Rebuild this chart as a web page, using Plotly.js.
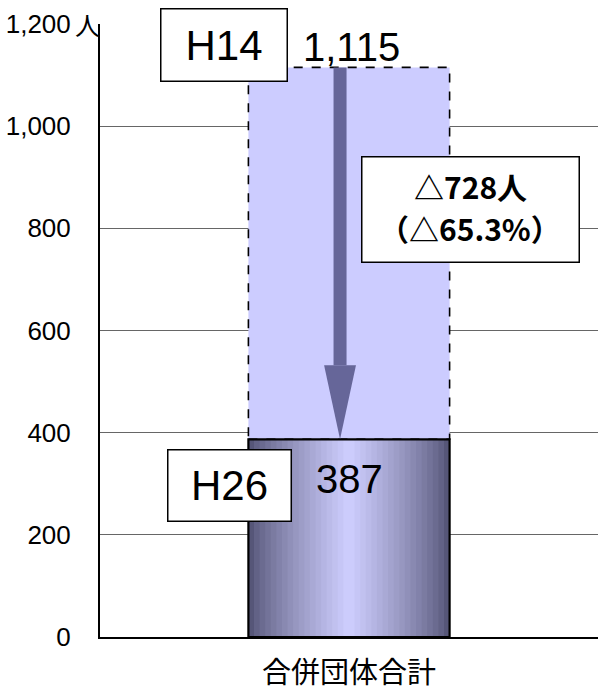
<!DOCTYPE html>
<html><head><meta charset="utf-8">
<script src="https://cdn.plot.ly/plotly-3.0.1.min.js"></script>
<style>html,body{margin:0;padding:0;background:#fff}#c{width:598px;height:695px}</style>
</head><body><div id="c"></div>
<script>
const categories = ['合併団体合計'];
const seriesNames = ['H14', 'H26'];
const valuesH14 = [1115];
const valuesH26 = [387];
const diffLabel = ['△728人', '（△65.3%）'];
const yTickVals = [0, 200, 400, 600, 800, 1000, 1200];
const yTickText = ['0', '200', '400', '600', '800', '1,000', '1,200'];
const yUnit = '人';

const xpos = [0];
const BW = 0.404;
const NUM = 'Liberation Sans, Arial, sans-serif';
const JP = 'Noto Sans CJK JP, sans-serif';

function fmt(v){ return v.toLocaleString('en-US'); }
function mix(a,b,t){ return 'rgb(' + a.map((v,i)=>Math.round(v+(b[i]-v)*t)).join(',') + ')'; }

const traces = [];
traces.push({type:'bar', x:xpos, y:valuesH14, width:BW, name:seriesNames[0],
  marker:{color:'#ccccff', line:{width:0}}, hoverinfo:'skip'});
const N = 18, dark=[86,86,120], light=[204,204,252];
for (let i=0;i<N;i++){
  const t = Math.pow(i/(N-1), 0.8);
  traces.push({type:'bar', x:xpos, y:valuesH26, width:BW*(1-i/N), name:seriesNames[1],
    marker:{color:mix(dark,light,t), line:{width:0}}, hoverinfo:'skip', showlegend:false});
}
traces.push({type:'bar', x:xpos, y:valuesH26, width:BW, marker:{color:'rgba(0,0,0,0)', line:{width:2.2,color:'#000'}}, hoverinfo:'skip'});

const ax = -0.018, headLen = 145, headHalf = 0.032;
const shapes = [
  {type:'rect', xref:'x', yref:'y', x0:xpos[0]-BW/2, x1:xpos[0]+BW/2, y0:valuesH26[0], y1:valuesH14[0],
   line:{color:'#000', width:1.6, dash:'dash'}, fillcolor:'rgba(0,0,0,0)', layer:'above'},
  {type:'line', xref:'x', yref:'y', x0:ax, x1:ax, y0:valuesH14[0], y1:valuesH26[0]+headLen,
   line:{color:'#666699', width:13}, layer:'above'},
  {type:'path', xref:'x', yref:'y',
   path:`M ${ax-headHalf},${valuesH26[0]+headLen} L ${ax+headHalf},${valuesH26[0]+headLen} L ${ax},${valuesH26[0]} Z`,
   fillcolor:'#666699', line:{width:0}, layer:'above'}
];

const box = (text, x, y, w, h, font) => ({text, xref:'x', yref:'y', x, y, showarrow:false,
  bgcolor:'#fff', bordercolor:'#000', borderwidth:1.5, borderpad:0, width:w, height:h,
  xanchor:'center', yanchor:'middle', font});

const annotations = [
  box(seriesNames[0], -0.251, 1159, 125, 71, {family:NUM, size:42, color:'#000'}),
  box(seriesNames[1], -0.239, 296, 122, 70, {family:NUM, size:42, color:'#000'}),
  box(' ', 0.243, 836, 216, 104, {family:JP, size:10, color:'#000'}),
  {text:'<b>'+diffLabel[0]+'</b>', xref:'x', yref:'y', x:0.243, y:836, yshift:24, showarrow:false,
   xanchor:'center', yanchor:'middle', font:{family:JP, size:30, color:'#000'}},
  {text:'<b>'+diffLabel[1]+'</b>', xref:'x', yref:'y', x:0.243, y:836, yshift:-18, showarrow:false,
   xanchor:'center', yanchor:'middle', font:{family:JP, size:30, color:'#000'}},
  {text:fmt(valuesH14[0]), xref:'x', yref:'y', x:xpos[0]+0.006, y:valuesH14[0], yanchor:'bottom', yshift:-4, showarrow:false,
   font:{family:NUM, size:40, color:'#000'}},
  {text:fmt(valuesH26[0]), xref:'x', yref:'y', x:xpos[0], y:valuesH26[0], yanchor:'top', yshift:-16, showarrow:false,
   font:{family:NUM, size:40, color:'#000'}},
  {text:yUnit, xref:'paper', yref:'y', x:0, y:1200, xanchor:'right', xshift:2, yanchor:'middle', showarrow:false,
   font:{family:JP, size:25, color:'#000'}}
];

const layout = {
  width:598, height:695, margin:{l:100, r:0, t:24, b:58},
  paper_bgcolor:'#fff', plot_bgcolor:'#fff', barmode:'overlay', showlegend:false,
  xaxis:{range:[-0.5,0.5], tickvals:xpos, ticktext:categories, showgrid:false, zeroline:false,
    showline:true, linecolor:'#000', linewidth:2, ticks:'', tickfont:{family:JP, size:29, color:'#000'}, ticklabelstandoff:9, fixedrange:true},
  yaxis:{range:[0,1200], tickvals:yTickVals, ticktext:yTickText, showgrid:true, gridcolor:'#666', gridwidth:1,
    zeroline:false, showline:true, linecolor:'#000', linewidth:2, ticks:'', ticklabelstandoff:22,
    tickfont:{family:NUM, size:26, color:'#000'}, fixedrange:true},
  shapes, annotations
};
Plotly.newPlot('c', traces, layout, {displayModeBar:false, staticPlot:true});
</script></body></html>
